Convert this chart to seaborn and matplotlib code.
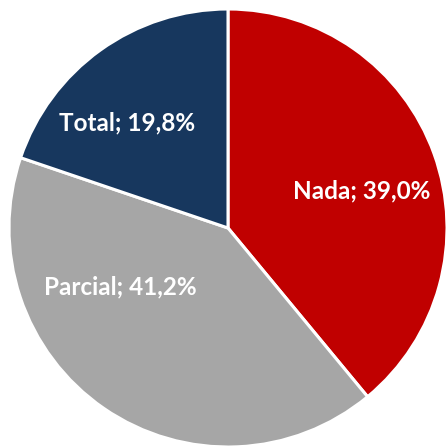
import matplotlib
matplotlib.use('Agg')
import matplotlib.pyplot as plt
import seaborn as sns

sns.set_style("white")
plt.rcParams['font.family'] = ['Lato', 'DejaVu Sans']

# datos
categorias = ['Nada', 'Parcial', 'Total']
valores = [39.0, 41.2, 19.8]
colores = ['#C00000', '#A6A6A6', '#17375E']
# posiciones de las etiquetas (en unidades del radio)
pos_etiquetas = [(0.61, 0.17), (-0.49, -0.27), (-0.46, 0.48)]

fig = plt.figure(figsize=(4.46, 4.48), dpi=100)
ax = fig.add_axes([9 / 446, (448 - 228 - 219) / 448, 438 / 446, 438 / 448])

ax.pie(valores, colors=colores, startangle=90, counterclock=False,
       radius=1.0, wedgeprops=dict(edgecolor='white', linewidth=2.2))

for cat, val, (x, y) in zip(categorias, valores, pos_etiquetas):
    txt = f'{cat}; {val:.1f}%'.replace('.', ',')
    ax.text(x, y, txt, ha='center', va='center', color='white',
            fontsize=17.5, fontweight='bold')

ax.set_xlim(-1, 1)
ax.set_ylim(-1, 1)
ax.set_aspect('equal')
ax.axis('off')

plt.savefig('out.png', dpi=100)
plt.close()
